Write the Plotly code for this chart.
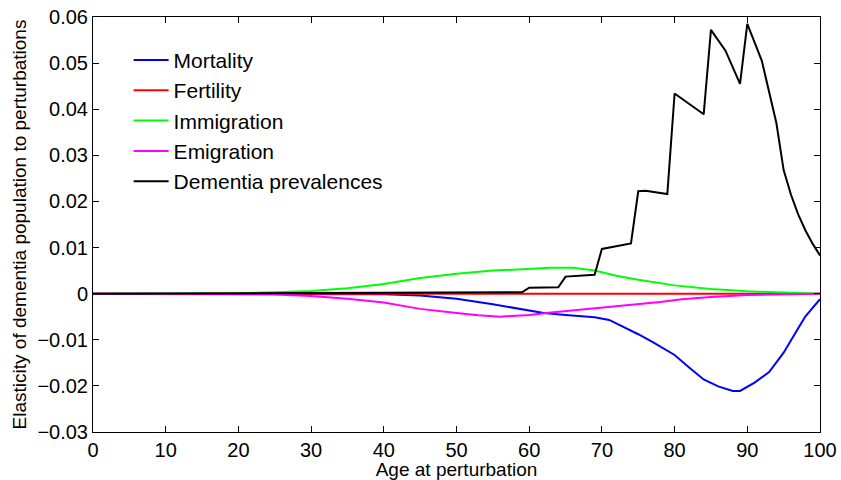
import plotly.graph_objects as go

# ---- data ----
mort_age = [0, 30, 40, 45, 50, 55, 60, 62, 65, 69, 71, 73, 75, 77, 80, 82, 84, 86, 88, 89, 91, 93, 95, 97, 98, 100]
mort_val = [0, 0, -0.0001, -0.0004, -0.0011, -0.0023, -0.0037, -0.0042, -0.0046, -0.0051, -0.0057, -0.0072,
            -0.0088, -0.0105, -0.0133, -0.0160, -0.0186, -0.0201, -0.0211, -0.0211, -0.0193, -0.0170,
            -0.0128, -0.0075, -0.0049, -0.0012]

fert_age = [0, 100]
fert_val = [0, 0]

imm_age = [0, 20, 25, 30, 35, 40, 45, 50, 55, 60, 63, 66, 69, 72, 75, 80, 85, 90, 95, 100]
imm_val = [0, 0.0001, 0.0003, 0.0006, 0.0012, 0.0021, 0.0034, 0.0043, 0.0050, 0.0054, 0.0056, 0.0056,
           0.0050, 0.0039, 0.0030, 0.0018, 0.0010, 0.0005, 0.0002, 0.0]

emi_age = [0, 20, 25, 30, 35, 40, 45, 50, 53, 56, 60, 63, 67, 70, 74, 78, 81, 85, 90, 95, 100]
emi_val = [0, -0.0001, -0.0002, -0.0005, -0.0011, -0.0019, -0.0033, -0.0042, -0.0047, -0.0050, -0.0046,
           -0.0041, -0.0035, -0.0031, -0.0025, -0.0018, -0.0012, -0.0007, -0.0003, -0.0001, 0]

dem_age = [0, 30, 59, 60, 64, 65, 69, 70, 74, 75, 76, 79, 80, 84, 85, 87, 89, 90, 92, 94, 95, 96, 97, 98, 99, 100]
dem_val = [0, 0.0001, 0.0003, 0.0013, 0.0014, 0.0037, 0.0041, 0.0097, 0.0109, 0.0222, 0.0223, 0.0216,
           0.0434, 0.0389, 0.0572, 0.0527, 0.0455, 0.0585, 0.0505, 0.0370, 0.0268, 0.0215, 0.0172,
           0.0137, 0.0108, 0.0083]

x_ticks = list(range(0, 101, 10))

series = [
    ("Mortality", mort_age, mort_val, "#0000ff"),
    ("Fertility", fert_age, fert_val, "#ff0000"),
    ("Immigration", imm_age, imm_val, "#00ff00"),
    ("Emigration", emi_age, emi_val, "#ff00ff"),
    ("Dementia prevalences", dem_age, dem_val, "#000000"),
]

fig = go.Figure()
for name, xs, ys, col in series:
    fig.add_trace(go.Scatter(x=xs, y=ys, mode="lines", name=name, legendgroup=name,
                             line=dict(color=col, width=2)))

font = "Liberation Sans, Arial, Helvetica, sans-serif"
axis_common = dict(showline=True, linecolor="black", linewidth=1, mirror="ticks",
                   ticks="inside", ticklen=6, tickcolor="black", showgrid=False,
                   zeroline=False, automargin=False,
                   tickfont=dict(size=20, color="black", family=font))

fig.update_layout(
    width=841, height=480,
    margin=dict(l=93, r=21, t=17, b=48),
    plot_bgcolor="white", paper_bgcolor="white",
    font=dict(family=font, color="black"),
    xaxis=dict(range=[0, 100], tickvals=x_ticks, title=dict(text="Age at perturbation",
               font=dict(size=19), standoff=2), **axis_common),
    yaxis=dict(range=[-0.03, 0.06], dtick=0.01, tickformat=".2~f",
               title=dict(text="Elasticity of dementia population to perturbations",
                          font=dict(size=19), standoff=5), **axis_common),
    legend=dict(x=0.049, y=0.945, xanchor="left", yanchor="top", bgcolor="rgba(0,0,0,0)",
                font=dict(size=21, color="black", family=font), tracegroupgap=0,
                itemwidth=35),
    showlegend=True,
)

fig.write_html("out.html")
